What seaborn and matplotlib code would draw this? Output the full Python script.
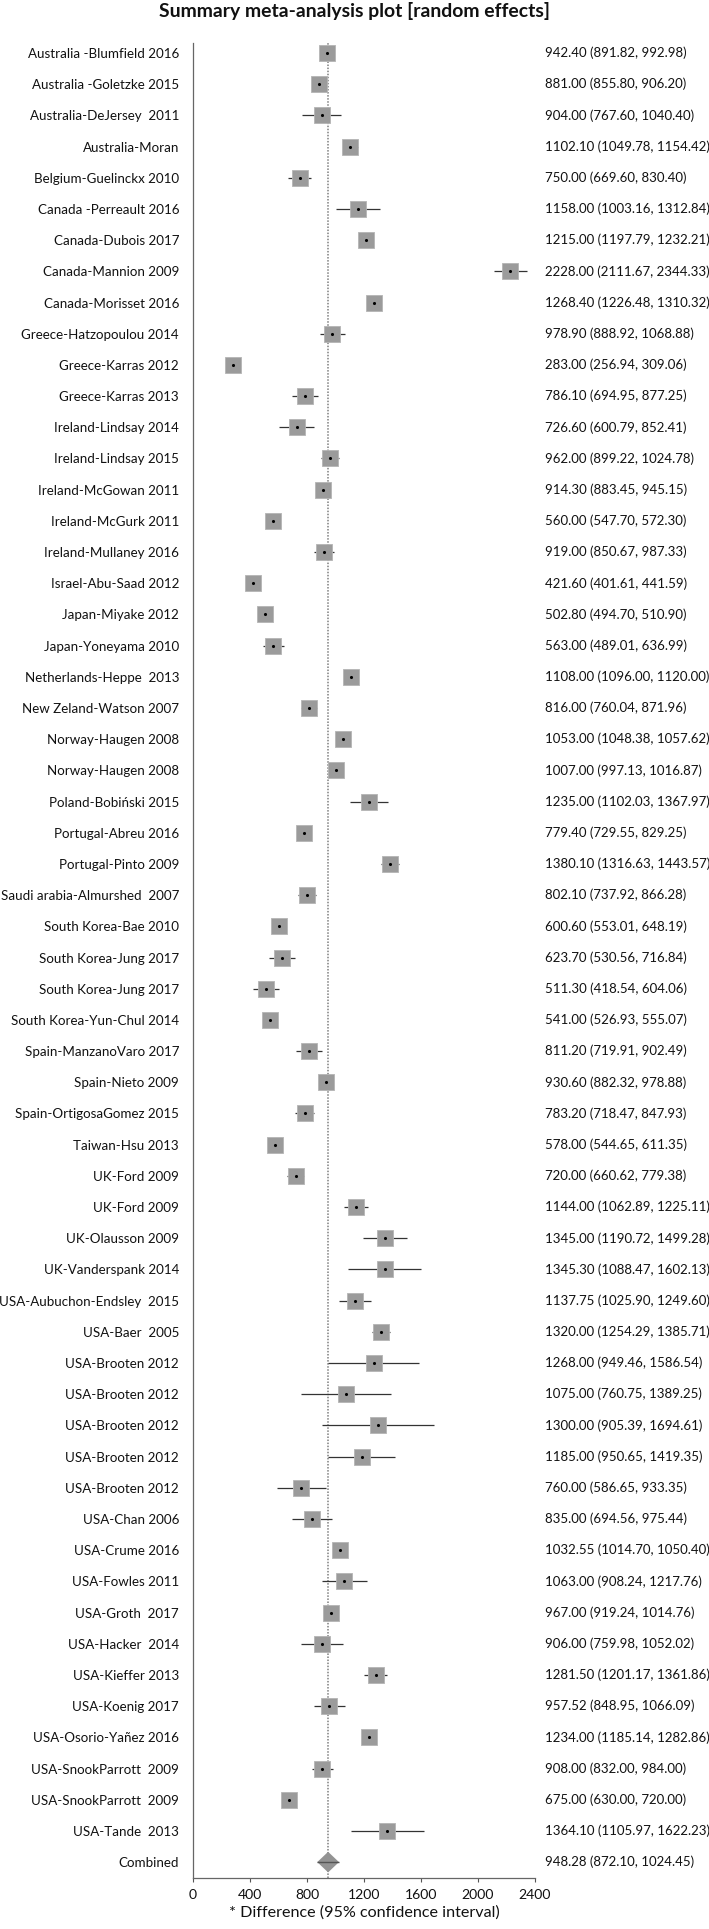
import pandas as pd
import seaborn as sns
import matplotlib.pyplot as plt
import matplotlib.transforms as mtransforms
import numpy as np

studies = [
    "Australia -Blumfield 2016", "Australia -Goletzke 2015", "Australia-DeJersey  2011",
    "Australia-Moran", "Belgium-Guelinckx 2010", "Canada -Perreault 2016",
    "Canada-Dubois 2017", "Canada-Mannion 2009", "Canada-Morisset 2016",
    "Greece-Hatzopoulou 2014", "Greece-Karras 2012", "Greece-Karras 2013",
    "Ireland-Lindsay 2014", "Ireland-Lindsay 2015", "Ireland-McGowan 2011",
    "Ireland-McGurk 2011", "Ireland-Mullaney 2016", "Israel-Abu-Saad 2012",
    "Japan-Miyake 2012", "Japan-Yoneyama 2010", "Netherlands-Heppe  2013",
    "New Zeland-Watson 2007", "Norway-Haugen 2008", "Norway-Haugen 2008",
    "Poland-Bobiński 2015", "Portugal-Abreu 2016", "Portugal-Pinto 2009",
    "Saudi arabia-Almurshed  2007", "South Korea-Bae 2010", "South Korea-Jung 2017",
    "South Korea-Jung 2017", "South Korea-Yun-Chul 2014", "Spain-ManzanoVaro 2017",
    "Spain-Nieto 2009", "Spain-OrtigosaGomez 2015", "Taiwan-Hsu 2013",
    "UK-Ford 2009", "UK-Ford 2009", "UK-Olausson 2009", "UK-Vanderspank 2014",
    "USA-Aubuchon-Endsley  2015", "USA-Baer  2005", "USA-Brooten 2012",
    "USA-Brooten 2012", "USA-Brooten 2012", "USA-Brooten 2012", "USA-Brooten 2012",
    "USA-Chan 2006", "USA-Crume 2016", "USA-Fowles 2011", "USA-Groth  2017",
    "USA-Hacker  2014", "USA-Kieffer 2013", "USA-Koenig 2017", "USA-Osorio-Yañez 2016",
    "USA-SnookParrott  2009", "USA-SnookParrott  2009", "USA-Tande  2013",
]
estimate = [
    942.40, 881.00, 904.00, 1102.10, 750.00, 1158.00, 1215.00, 2228.00, 1268.40,
    978.90, 283.00, 786.10, 726.60, 962.00, 914.30, 560.00, 919.00, 421.60,
    502.80, 563.00, 1108.00, 816.00, 1053.00, 1007.00, 1235.00, 779.40, 1380.10,
    802.10, 600.60, 623.70, 511.30, 541.00, 811.20, 930.60, 783.20, 578.00,
    720.00, 1144.00, 1345.00, 1345.30, 1137.75, 1320.00, 1268.00, 1075.00,
    1300.00, 1185.00, 760.00, 835.00, 1032.55, 1063.00, 967.00, 906.00,
    1281.50, 957.52, 1234.00, 908.00, 675.00, 1364.10,
]
ci_low = [
    891.82, 855.80, 767.60, 1049.78, 669.60, 1003.16, 1197.79, 2111.67, 1226.48,
    888.92, 256.94, 694.95, 600.79, 899.22, 883.45, 547.70, 850.67, 401.61,
    494.70, 489.01, 1096.00, 760.04, 1048.38, 997.13, 1102.03, 729.55, 1316.63,
    737.92, 553.01, 530.56, 418.54, 526.93, 719.91, 882.32, 718.47, 544.65,
    660.62, 1062.89, 1190.72, 1088.47, 1025.90, 1254.29, 949.46, 760.75,
    905.39, 950.65, 586.65, 694.56, 1014.70, 908.24, 919.24, 759.98,
    1201.17, 848.95, 1185.14, 832.00, 630.00, 1105.97,
]
ci_high = [
    992.98, 906.20, 1040.40, 1154.42, 830.40, 1312.84, 1232.21, 2344.33, 1310.32,
    1068.88, 309.06, 877.25, 852.41, 1024.78, 945.15, 572.30, 987.33, 441.59,
    510.90, 636.99, 1120.00, 871.96, 1057.62, 1016.87, 1367.97, 829.25, 1443.57,
    866.28, 648.19, 716.84, 604.06, 555.07, 902.49, 978.88, 847.93, 611.35,
    779.38, 1225.11, 1499.28, 1602.13, 1249.60, 1385.71, 1586.54, 1389.25,
    1694.61, 1419.35, 933.35, 975.44, 1050.40, 1217.76, 1014.76, 1052.02,
    1361.86, 1066.09, 1282.86, 984.00, 720.00, 1622.23,
]
combined_label = "Combined"
combined_est, combined_low, combined_high = 948.28, 872.10, 1024.45
x_ticks = [0, 400, 800, 1200, 1600, 2000, 2400]
title = "Summary meta-analysis plot [random effects]"
x_label = "* Difference (95% confidence interval)"

df = pd.DataFrame({"study": studies, "est": estimate, "lo": ci_low, "hi": ci_high})
df["row"] = np.arange(len(df))
n = len(df)

sns.set_style("white")
plt.rcParams['font.family'] = ['Lato', 'DejaVu Sans']

fig = plt.figure(figsize=(7.09, 19.29), dpi=100)
renderer = fig.canvas.get_renderer()


def fit_size(text, target_px, weight="normal", base=10.0):
    # font size that makes `text` about target_px wide
    t = fig.text(0, 0, text, fontsize=base, fontweight=weight)
    w = t.get_window_extent(renderer=renderer).width
    t.remove()
    return base * target_px / w


fs_left = fit_size(studies[0], 150)
fs_right = fit_size("942.40 (891.82, 992.98)", 142)
fs_title = fit_size(title, 392, weight="bold")
fs_xlabel = fit_size(x_label, 272)
fs_tick = fs_left * 1.05

ax = fig.add_axes([193/709, 1 - 1878/1929, (535 - 193)/709, (1878 - 43)/1929])

# pooled estimate reference line
ax.axvline(combined_est, color="#7f7f7f", linestyle=(0, (1, 1)), lw=1.1, zorder=1)

# confidence intervals
ax.hlines(df["row"], df["lo"], df["hi"], color="#333333", lw=0.9, zorder=2)

# study boxes
sns.scatterplot(data=df, x="est", y="row", marker="s", s=12**2, color="#9b9b9b",
                edgecolor="#b5b5b5", linewidth=0.6, ax=ax, zorder=3, legend=False)
sns.scatterplot(data=df, x="est", y="row", marker="o", s=5, color="black",
                linewidth=0, ax=ax, zorder=4, legend=False)

# combined diamond
half_h = 0.33
ax.fill([combined_low, combined_est, combined_high, combined_est],
        [n, n - half_h, n, n + half_h], color="#939393", zorder=3, lw=0)
ax.hlines(n, combined_low, combined_high, color="#555555", lw=1.0, zorder=4)

# right column text
trans = mtransforms.blended_transform_factory(ax.transAxes, ax.transData)
for r, e, lo, hi in zip(df["row"], df["est"], df["lo"], df["hi"]):
    ax.text(1.029, r, f"{e:.2f} ({lo:.2f}, {hi:.2f})", transform=trans,
            ha="left", va="center", fontsize=fs_right, color="#111111")
ax.text(1.029, n, f"{combined_est:.2f} ({combined_low:.2f}, {combined_high:.2f})",
        transform=trans, ha="left", va="center", fontsize=fs_right, color="#111111")

ax.set_xlim(0, 2400)
ax.set_xticks(x_ticks)
ax.set_ylim(n + 0.51, -0.32)
ax.set_yticks(list(range(n + 1)))
ax.set_yticklabels(studies + [combined_label], fontsize=fs_left, color="#111111")
ax.tick_params(axis="y", length=0, pad=10)
ax.tick_params(axis="x", length=3, width=0.8, color="#555555", direction="out",
               labelsize=fs_tick, labelcolor="#111111", pad=5, bottom=True)
ax.set_xlabel(x_label, fontsize=fs_xlabel, labelpad=3, color="#111111")
ax.set_ylabel("")

for side in ["top", "right"]:
    ax.spines[side].set_visible(False)
for side in ["left", "bottom"]:
    ax.spines[side].set_color("#666666")
    ax.spines[side].set_linewidth(0.9)

fig.suptitle(title, fontsize=fs_title, fontweight="bold", y=0.999, va="top",
             color="#111111")

fig.savefig("out.png", dpi=100)
